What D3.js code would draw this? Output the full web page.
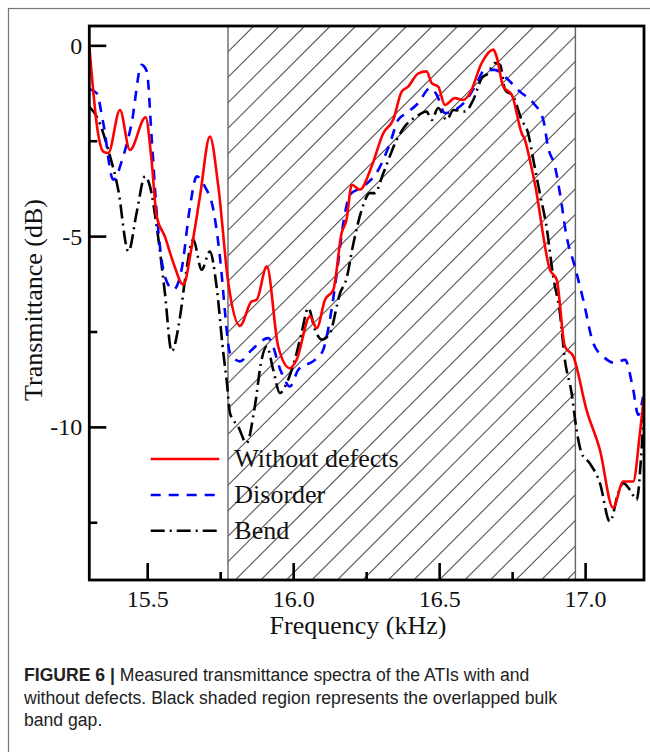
<html>
<meta charset="UTF-8">

<head>
  <style>
    body { margin: 0; background: white; }
    svg { display: block; }
  </style>
</head>

<script src="https://d3js.org/d3.v7.min.js"></script>

<body>
  <p id="chart" style="margin:0"></p>

  <script>
    // measured spectra (frequency in kHz, transmittance in dB)
    var redFreq = [15.300, 15.308, 15.325, 15.348, 15.365, 15.405, 15.439, 15.493, 15.512, 15.531, 15.559, 15.588, 15.622, 15.651, 15.679, 15.713, 15.742, 15.776, 15.816, 15.856, 15.873, 15.908, 15.947, 15.987, 16.010, 16.056, 16.079, 16.107, 16.136, 16.164, 16.181, 16.199, 16.227, 16.267, 16.307, 16.341, 16.370, 16.392, 16.427, 16.455, 16.473, 16.495, 16.518, 16.552, 16.581, 16.604, 16.644, 16.684, 16.695, 16.718, 16.747, 16.781, 16.792, 16.809, 16.826, 16.878, 16.901, 16.929, 16.958, 17.003, 17.049, 17.094, 17.129, 17.163, 17.186, 17.200];
    var redDb = [0.00, -0.72, -2.03, -2.77, -2.81, -1.68, -2.73, -1.87, -2.90, -4.47, -5.00, -5.69, -6.26, -5.26, -3.95, -2.38, -3.69, -6.21, -7.34, -6.70, -6.66, -5.78, -7.88, -8.45, -8.23, -7.09, -7.40, -6.66, -6.39, -4.91, -4.56, -3.64, -3.77, -3.16, -2.29, -1.94, -1.20, -1.07, -0.72, -0.67, -0.98, -1.07, -1.55, -1.37, -1.42, -1.24, -0.45, -0.10, -0.28, -1.07, -1.28, -2.29, -2.46, -2.99, -3.60, -5.87, -6.13, -7.88, -8.14, -9.54, -10.59, -12.11, -11.42, -11.42, -10.15, -9.19];

    var blueFreq = [15.300, 15.325, 15.348, 15.382, 15.416, 15.445, 15.479, 15.497, 15.514, 15.531, 15.559, 15.588, 15.616, 15.645, 15.668, 15.696, 15.725, 15.753, 15.765, 15.782, 15.816, 15.856, 15.913, 15.959, 15.987, 16.016, 16.073, 16.101, 16.124, 16.147, 16.170, 16.193, 16.238, 16.290, 16.330, 16.358, 16.387, 16.427, 16.467, 16.490, 16.518, 16.552, 16.592, 16.627, 16.655, 16.689, 16.729, 16.775, 16.821, 16.855, 16.872, 16.895, 16.912, 16.935, 16.963, 16.992, 17.026, 17.060, 17.100, 17.135, 17.163, 17.180, 17.197];
    var blueDb = [-1.13, -1.24, -2.03, -3.51, -2.90, -2.03, -0.50, -0.67, -2.46, -4.38, -6.05, -6.39, -5.87, -4.21, -3.42, -3.69, -4.30, -5.95, -7.00, -8.05, -8.27, -7.97, -7.66, -8.58, -8.93, -8.49, -8.23, -7.97, -7.18, -6.00, -4.65, -3.90, -3.69, -3.25, -2.55, -1.94, -1.76, -1.50, -1.11, -1.28, -1.76, -1.68, -1.42, -0.98, -0.63, -0.63, -0.85, -1.20, -1.50, -1.94, -2.68, -3.16, -3.86, -5.00, -5.78, -6.66, -7.79, -8.14, -8.31, -8.23, -9.01, -9.67, -9.19];

    var bendFreq = [15.300, 15.331, 15.365, 15.399, 15.434, 15.462, 15.491, 15.508, 15.531, 15.559, 15.582, 15.611, 15.628, 15.656, 15.685, 15.713, 15.736, 15.759, 15.771, 15.782, 15.810, 15.839, 15.867, 15.890, 15.908, 15.930, 15.953, 15.976, 16.004, 16.027, 16.050, 16.073, 16.096, 16.124, 16.159, 16.181, 16.204, 16.233, 16.261, 16.278, 16.307, 16.353, 16.381, 16.421, 16.455, 16.473, 16.495, 16.524, 16.547, 16.587, 16.615, 16.644, 16.666, 16.689, 16.707, 16.724, 16.752, 16.781, 16.803, 16.821, 16.843, 16.866, 16.889, 16.912, 16.929, 16.952, 16.969, 16.986, 17.014, 17.049, 17.083, 17.112, 17.129, 17.152, 17.175, 17.191, 17.200];
    var bendDb = [-1.59, -1.94, -2.73, -3.77, -5.39, -4.38, -3.42, -3.69, -4.74, -6.48, -8.01, -7.09, -6.13, -5.08, -5.87, -5.39, -6.31, -8.05, -8.80, -9.63, -9.98, -10.41, -9.45, -8.23, -7.88, -8.49, -9.10, -8.84, -8.23, -7.53, -6.87, -7.44, -7.70, -7.53, -6.48, -6.10, -5.20, -4.30, -3.86, -3.86, -3.34, -2.46, -2.11, -1.85, -1.72, -1.94, -1.63, -1.94, -1.68, -1.72, -1.42, -0.85, -0.72, -0.45, -0.50, -1.15, -1.33, -1.94, -2.29, -2.99, -3.86, -4.74, -6.05, -7.00, -8.23, -9.10, -10.06, -10.67, -10.94, -11.46, -12.47, -11.72, -11.46, -11.64, -11.90, -10.67, -9.54];

    // overlapped bulk band gap (hatched)
    var bandGap = [15.775, 16.965];

    var xMajor = [15.5, 16.0, 16.5, 17.0];
    var xMinor = [15.75, 16.25, 16.75];
    var yMajor = [0, -5, -10];
    var yMinor = [-2.5, -7.5, -12.5];

    var seriesNames = ["Without defects", "Disorder", "Bend"];
    var seriesColors = ["#ff0000", "#0000ff", "#000000"];
    var seriesDash = [null, "10,8", "14,5,2,5"];

    var width = 650;
    var height = 752;
    var margin = { top: 26, left: 89.3, right: 6, bottom: 172 };
    var chartWidth = width - margin.left - margin.right;
    var chartHeight = height - margin.top - margin.bottom;

    var svg = d3.select("#chart").append("svg")
      .attr("width", width)
      .attr("height", height);

    // outer frame of the figure panel
    svg.append("rect")
      .attr("x", 8.5).attr("y", 8.5)
      .attr("width", 700).attr("height", 800)
      .attr("fill", "none")
      .attr("stroke", "#777")
      .attr("stroke-width", 1.2);

    var g = svg.append("g")
      .attr("transform", "translate(" + margin.left + "," + margin.top + ")");

    var x = d3.scaleLinear().domain([15.3, 17.2]).range([0, chartWidth]);
    var y = d3.scaleLinear().domain([-14, 0.52]).range([chartHeight, 0]);

    g.append("clipPath").attr("id", "plotClip")
      .append("rect").attr("width", chartWidth).attr("height", chartHeight);
    g.append("clipPath").attr("id", "gapClip")
      .append("rect")
      .attr("x", x(bandGap[0])).attr("width", x(bandGap[1]) - x(bandGap[0]))
      .attr("height", chartHeight);

    // hatching: 45 degree lines x + y = c, spaced 25.5 px
    var gx0 = x(bandGap[0]), gx1 = x(bandGap[1]);
    var hatch = g.append("g").attr("clip-path", "url(#gapClip)");
    hatch.selectAll("line")
      .data(d3.range(gx0 - 25.5 * 2 + 0.3, gx1 + chartHeight + 30, 25.5))
      .enter().append("line")
      .attr("x1", d => d).attr("y1", 0)
      .attr("x2", d => d - chartHeight - 10).attr("y2", chartHeight + 10)
      .attr("stroke", "#555")
      .attr("stroke-width", 1.1);

    g.selectAll(".gapEdge")
      .data(bandGap)
      .enter().append("line")
      .attr("class", "gapEdge")
      .attr("x1", d => x(d)).attr("x2", d => x(d))
      .attr("y1", 0).attr("y2", chartHeight)
      .attr("stroke", "#666")
      .attr("stroke-width", 1.4);

    // curves
    var series = [
      redFreq.map((f, i) => [f, redDb[i]]),
      blueFreq.map((f, i) => [f, blueDb[i]]),
      bendFreq.map((f, i) => [f, bendDb[i]])
    ];
    var line = d3.line()
      .x(d => x(d[0]))
      .y(d => y(d[1]))
      .curve(d3.curveMonotoneX);

    var curves = g.append("g").attr("clip-path", "url(#plotClip)");
    [2, 1, 0].forEach(i => {
      curves.append("path")
        .datum(series[i])
        .attr("d", line)
        .attr("fill", "none")
        .attr("stroke", seriesColors[i])
        .attr("stroke-width", 2.6)
        .attr("stroke-dasharray", seriesDash[i]);
    });

    // legend
    var legendY = [433, 469, 504.7];
    seriesNames.forEach((name, i) => {
      g.append("line")
        .attr("x1", 61.4).attr("x2", 130)
        .attr("y1", legendY[i]).attr("y2", legendY[i])
        .attr("stroke", seriesColors[i])
        .attr("stroke-width", 2.4)
        .attr("stroke-dasharray", seriesDash[i]);
      g.append("text")
        .attr("x", 145).attr("y", legendY[i] + 8)
        .attr("font-family", "'Liberation Serif', 'Times New Roman', serif")
        .attr("font-size", 26)
        .attr("fill", "#111")
        .text(name);
    });

    // axes with inward ticks
    var axisFont = "'Liberation Serif', 'Times New Roman', serif";
    g.append("rect")
      .attr("width", chartWidth).attr("height", chartHeight)
      .attr("fill", "none")
      .attr("stroke", "black")
      .attr("stroke-width", 2.8);

    g.selectAll(".xMajor").data(xMajor).enter().append("line")
      .attr("x1", d => x(d)).attr("x2", d => x(d))
      .attr("y1", chartHeight).attr("y2", chartHeight - 17)
      .attr("stroke", "black").attr("stroke-width", 2.6);
    g.selectAll(".xMinor").data(xMinor).enter().append("line")
      .attr("x1", d => x(d)).attr("x2", d => x(d))
      .attr("y1", chartHeight).attr("y2", chartHeight - 8)
      .attr("stroke", "black").attr("stroke-width", 2.6);
    g.selectAll(".yMajor").data(yMajor).enter().append("line")
      .attr("x1", 0).attr("x2", 17)
      .attr("y1", d => y(d)).attr("y2", d => y(d))
      .attr("stroke", "black").attr("stroke-width", 2.6);
    g.selectAll(".yMinor").data(yMinor).enter().append("line")
      .attr("x1", 0).attr("x2", 8)
      .attr("y1", d => y(d)).attr("y2", d => y(d))
      .attr("stroke", "black").attr("stroke-width", 2.6);

    g.selectAll(".xLabel").data(xMajor).enter().append("text")
      .attr("x", d => x(d)).attr("y", chartHeight + 27)
      .attr("text-anchor", "middle")
      .attr("font-family", axisFont).attr("font-size", 24)
      .attr("fill", "#111")
      .text(d => d3.format(".1f")(d));
    g.selectAll(".yLabel").data(yMajor).enter().append("text")
      .attr("x", -7).attr("y", d => y(d) + 8)
      .attr("text-anchor", "end")
      .attr("font-family", axisFont).attr("font-size", 24)
      .attr("fill", "#111")
      .text(d => d);

    svg.append("text")
      .attr("x", 358).attr("y", 634)
      .attr("text-anchor", "middle")
      .attr("font-family", axisFont).attr("font-size", 26)
      .attr("fill", "#111")
      .text("Frequency (kHz)");
    svg.append("text")
      .attr("transform", "translate(42,300) rotate(-90)")
      .attr("text-anchor", "middle")
      .attr("font-family", axisFont).attr("font-size", 26)
      .attr("fill", "#111")
      .text("Transmittance (dB)");

    // caption
    var captionLines = [
      ["FIGURE 6 | ", "Measured transmittance spectra of the ATIs with and"],
      ["", "without defects. Black shaded region represents the overlapped bulk"],
      ["", "band gap."]
    ];
    captionLines.forEach((ln, i) => {
      var t = svg.append("text")
        .attr("x", 24).attr("y", 681 + i * 22.5)
        .attr("font-family", "'Liberation Sans', Arial, sans-serif")
        .attr("font-size", 17.6)
        .attr("fill", "#222");
      if (ln[0]) t.append("tspan").attr("font-weight", "bold").text(ln[0]);
      t.append("tspan").text(ln[1]);
    });
  </script>
</body>

</html>
